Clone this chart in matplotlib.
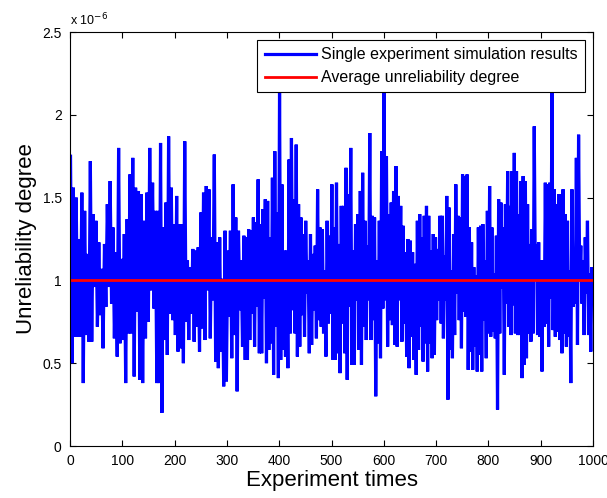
import numpy as np
import matplotlib
matplotlib.use("Agg")
import matplotlib.pyplot as plt

# Upper (hi) and lower (lo) spike values, in units of 1e-6,
# listed left to right; each pair gives one up spike and one down spike.
hi_1 = [1.75,1.56,1.50,1.25,1.53,1.42,1.16,1.72,1.40,1.36,1.23,1.07,1.22,1.46,1.60,1.32,1.17,1.80,1.13,1.28,1.37,1.64,1.74,1.56,1.54,1.52,1.36,1.53,1.80,1.59,1.42]
lo_1 = [0.50,0.66,0.66,0.66,0.38,0.67,0.63,0.63,0.96,0.72,0.79,0.59,0.84,0.96,0.86,0.65,0.54,0.62,0.64,0.38,0.68,0.68,0.42,0.81,0.40,0.38,0.65,0.75,0.94,0.83,0.38]
hi_2 = [1.42,1.83,1.32,1.47,1.87,1.56,1.34,1.51,1.34,1.34,1.84,1.12,1.08,1.19,1.18,1.20,1.41,1.53,1.57,1.55,1.26,1.76,1.23,1.26,1.01,1.30,1.18,1.30,1.58,1.38,1.30,1.12,1.27]
lo_2 = [0.38,0.20,0.64,0.55,0.80,0.76,0.67,0.57,0.59,0.50,0.75,0.64,0.80,0.63,0.72,0.57,0.71,0.64,0.94,0.65,0.88,0.51,0.47,0.57,0.36,0.39,0.78,0.53,0.67,0.33,0.82,0.60,0.52]
hi_3 = [1.26,1.31,1.30,1.38,1.35,1.61,1.34,1.43,1.49,1.48,1.26,1.62,1.78,1.41,2.14,1.58,1.18,1.18,1.73,1.86,1.49,1.82,1.46,1.38,1.28,1.36,1.12,1.28,1.16,1.21,1.55,1.32,1.31,1.06,1.36,1.27,1.58]
lo_3 = [0.52,0.64,0.80,0.60,0.84,0.56,0.56,0.89,0.50,0.58,0.62,0.43,0.72,0.41,0.52,0.58,0.54,0.47,0.68,0.82,0.68,0.54,0.60,0.79,0.66,0.92,0.56,0.61,0.82,0.65,0.76,0.72,0.68,0.54,0.74,0.80,0.52]
hi_4 = [1.32,1.59,1.22,1.45,1.45,1.68,1.52,1.80,1.18,1.34,1.40,1.54,1.65,1.36,1.21,1.89,1.39,1.38,1.12,1.36,1.78,2.15,1.75,1.40,1.47,1.54,1.69,1.51,1.45,1.33,1.17,1.25,1.24,1.17,1.10,1.36,1.40]
lo_4 = [0.52,0.56,0.44,0.74,0.56,0.40,0.84,0.49,0.49,0.88,0.58,0.49,0.72,0.64,0.88,0.64,0.76,0.30,0.62,0.53,0.83,0.88,0.60,0.76,0.73,0.61,0.60,0.88,0.63,0.74,0.54,0.47,0.66,0.52,0.43,0.58,0.72]
hi_5 = [1.26,1.39,1.45,1.39,1.18,1.28,1.26,1.19,1.39,1.39,1.15,1.51,1.44,1.06,1.28,1.58,1.39,1.38,1.64,1.63,1.64,1.32,1.23,1.08,1.03,1.32,1.33,1.34,1.12,1.42,1.57,1.32,1.04,1.27,1.49,1.47,1.32,1.46,1.66]
lo_5 = [0.51,0.62,0.45,0.62,0.53,0.55,0.76,0.88,0.74,0.65,0.88,0.28,0.58,0.53,0.67,0.92,0.76,0.59,0.81,0.78,0.46,0.57,0.46,0.60,0.45,0.55,0.45,0.76,0.53,0.68,0.66,0.69,0.65,0.22,0.68,0.95,0.43,0.86,0.72]
hi_6 = [1.45,1.66,1.77,1.66,1.40,1.60,1.63,1.60,1.46,1.22,1.31,1.93,1.22,1.23,1.12,1.12,1.59,1.58,1.59,2.15,1.55,1.46,1.52,1.52,1.55,1.40,1.36,1.06,1.55,1.17,1.74,1.88,1.21,1.12,1.26,1.36,1.04,1.08]
lo_6 = [0.67,0.85,0.68,0.67,0.67,0.41,0.49,0.53,0.68,0.63,0.68,1.00,0.67,0.66,0.45,0.72,0.74,0.60,0.89,0.70,0.66,0.69,0.64,0.56,0.68,0.60,0.66,0.38,0.84,0.86,0.61,1.00,0.86,0.67,0.92,0.67,0.57,0.88]

# experiment-index range covered by each segment of readings
seg_start = [1, 168, 337, 505, 673, 841]
seg_end = [166, 335, 503, 671, 839, 1000]

hi_segs = [hi_1, hi_2, hi_3, hi_4, hi_5, hi_6]
lo_segs = [lo_1, lo_2, lo_3, lo_4, lo_5, lo_6]

values = []
experiments = []
for hs, ls, a, b in zip(hi_segs, lo_segs, seg_start, seg_end):
    seg = []
    for h, l in zip(hs, ls):
        seg.extend([h, l])
    values.extend(seg)
    experiments.extend(np.linspace(a, b, len(seg)))
values = np.array(values) * 1e-6
experiments = np.array(experiments)
average = 1.0e-6

x_ticks = [0, 100, 200, 300, 400, 500, 600, 700, 800, 900, 1000]
y_ticks = [0, 0.5e-6, 1.0e-6, 1.5e-6, 2.0e-6, 2.5e-6]
y_tick_labels = ["0", "0.5", "1", "1.5", "2", "2.5"]

plt.rcParams['font.family'] = ['Liberation Sans', 'DejaVu Sans']

fig = plt.figure(figsize=(6.07, 4.98), dpi=100)
ax = fig.add_axes([70/607, 1-446/498, (593-70)/607, (446-32)/498])

ax.plot(experiments, values, color='#0000ff', linewidth=2.3,
        label='Single experiment simulation results', solid_joinstyle='miter')
ax.plot([0, 1000], [average, average], color='#ff0000', linewidth=2.0,
        label='Average unreliability degree')

ax.set_xlim(0, 1000)
ax.set_ylim(0, 2.5e-6)
ax.set_xticks(x_ticks)
ax.set_xticklabels([str(t) for t in x_ticks])
ax.set_yticks(y_ticks)
ax.set_yticklabels(y_tick_labels)
ax.tick_params(direction='in', top=True, right=True, length=4, width=0.8,
               labelsize=10, pad=6)
for s in ax.spines.values():
    s.set_linewidth(0.8)

ax.text(0.0, 1.008, r'x 10$^{-6}$', transform=ax.transAxes, fontsize=9,
        ha='left', va='bottom')

ax.set_xlabel('Experiment times', fontsize=16, labelpad=1)
ax.set_ylabel('Unreliability degree', fontsize=16, labelpad=4)

leg = ax.legend(loc='upper right', fontsize=11.5, frameon=True, fancybox=False,
                edgecolor='black', framealpha=1, borderaxespad=0.5,
                handlelength=3.2, borderpad=0.45, labelspacing=0.5,
                handletextpad=0.35)
leg.get_frame().set_linewidth(0.8)

fig.savefig('out.png', dpi=100)
